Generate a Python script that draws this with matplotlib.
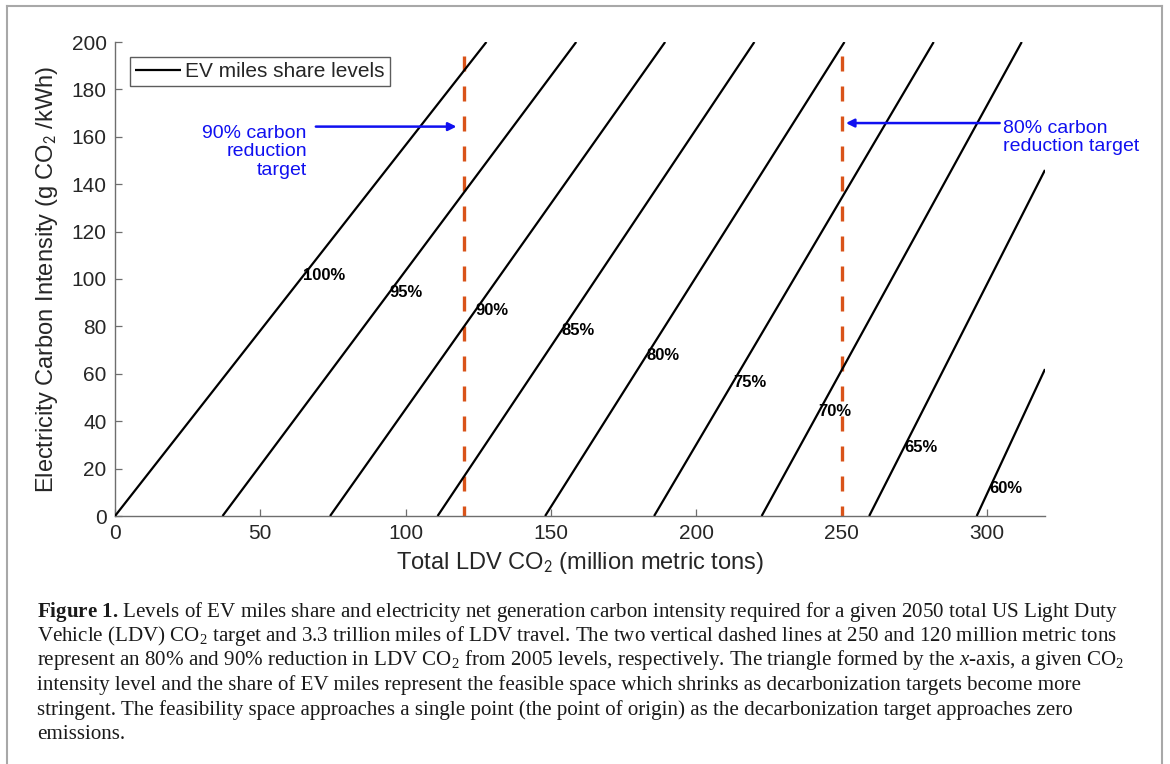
import numpy as np
import matplotlib
matplotlib.use("Agg")
import matplotlib.pyplot as plt
from matplotlib.lines import Line2D

# ---------------- data ----------------
ev_share_labels = ["100%", "95%", "90%", "85%", "80%", "75%", "70%", "65%", "60%"]
x_at_zero = [0, 37, 74, 111, 148, 185.5, 222.5, 259.5, 296.5]      # CO2 at 0 g/kWh
x_at_end = [127.8, 158.7, 189.3, 220, 251, 281.7, 312, 320, 320]   # end point x
y_at_end = [200, 200, 200, 200, 200, 200, 200, 146, 62]            # end point y
label_y = [101.3, 94.1, 86.5, 78.1, 67.9, 56.5, 43.9, 29.1, 11.4]  # label heights

target_x = [120, 250]
target_top = [194, 194]

x_ticks = [0, 50, 100, 150, 200, 250, 300]
y_ticks = [0, 20, 40, 60, 80, 100, 120, 140, 160, 180, 200]

caption_lines = [
    r"$\mathbf{Figure\ 1.}\,$Levels of EV miles share and electricity net generation carbon intensity required for a given 2050 total US Light Duty",
    r"Vehicle (LDV) CO$_2$ target and 3.3 trillion miles of LDV travel. The two vertical dashed lines at 250 and 120 million metric tons",
    r"represent an 80% and 90% reduction in LDV CO$_2$ from 2005 levels, respectively. The triangle formed by the $\mathit{x}$-axis, a given CO$_2$",
    r"intensity level and the share of EV miles represent the feasible space which shrinks as decarbonization targets become more",
    r"stringent. The feasibility space approaches a single point (the point of origin) as the decarbonization target approaches zero",
    r"emissions.",
]

# ---------------- styling ----------------
plt.rcParams['font.family'] = ['Liberation Sans', 'DejaVu Sans']
plt.rcParams['mathtext.fontset'] = 'custom'
plt.rcParams['mathtext.rm'] = 'Liberation Serif'
plt.rcParams['mathtext.it'] = 'Liberation Serif:italic'
plt.rcParams['mathtext.bf'] = 'Liberation Serif:bold'

W, H = 1170, 764
fig = plt.figure(figsize=(W / 100, H / 100), dpi=100)
fig.patch.set_facecolor('white')

# outer frame (left, top, right)
frame_c = '#a8a8a8'
fx0, fx1, fy1 = 7 / W, 1162 / W, 1 - 6 / H
for xs, ys in [([fx0, fx0], [0, fy1]), ([fx0, fx1], [fy1, fy1]), ([fx1, fx1], [fy1, 0])]:
    fig.add_artist(Line2D(xs, ys, transform=fig.transFigure, color=frame_c, lw=1.5))

ax_left, ax_right, ax_bottom, ax_top = 115, 1045, 516, 42
ax = fig.add_axes([ax_left / W, 1 - ax_bottom / H, (ax_right - ax_left) / W, (ax_bottom - ax_top) / H])
ax.set_xlim(0, 320)
ax.set_ylim(0, 200)

axis_c = '#6e6e6e'
text_c = '#262626'
for s in ['top', 'right']:
    ax.spines[s].set_visible(False)
for s in ['left', 'bottom']:
    ax.spines[s].set_color(axis_c)
    ax.spines[s].set_linewidth(1.0)
ax.tick_params(direction='in', length=5, width=0.9, color=axis_c, labelcolor=text_c,
               labelsize=15, pad=6)
ax.set_xticks(x_ticks)
ax.set_yticks(y_ticks)

# EV share lines
for i, lab in enumerate(ev_share_labels):
    xs = [x_at_zero[i], x_at_end[i]]
    ys = [0, y_at_end[i]]
    ax.plot(xs, ys, color='black', lw=1.6, solid_capstyle='butt', zorder=3,
            label='EV miles share levels' if i == 0 else None)
    lx = np.interp(label_y[i], ys, xs)
    ax.text(lx, label_y[i], lab, fontsize=12, fontweight='bold', color='black',
            ha='left', va='center', zorder=4)

# target dashed lines (drawn top-down so the dash pattern starts at the top)
for tx, tt in zip(target_x, target_top):
    ax.plot([tx, tx], [tt, 0], color='#d95319', lw=2.4, dashes=[4.5, 4.5], zorder=2)

blue = '#1010f0'
ax.annotate('', xy=(117.5, 164.3), xytext=(69.1, 164.3),
            arrowprops=dict(arrowstyle='-|>', color=blue, lw=1.8,
                            mutation_scale=12, shrinkA=0, shrinkB=0))
ax.text(66, 153.6, '90% carbon\nreduction\ntarget', color=blue, fontsize=14,
        ha='right', va='center', multialignment='right', linespacing=1.15)
ax.annotate('', xy=(251.5, 165.8), xytext=(304.4, 165.8),
            arrowprops=dict(arrowstyle='-|>', color=blue, lw=1.8,
                            mutation_scale=12, shrinkA=0, shrinkB=0))
ax.text(305.5, 159.7, '80% carbon\nreduction target', color=blue, fontsize=14,
        ha='left', va='center', multialignment='left', linespacing=1.15, clip_on=False)

ax.set_xlabel('Total LDV CO$_2$ (million metric tons)', fontsize=17, color=text_c,
              labelpad=5, math_fontfamily='stixsans')
ax.set_ylabel('Electricity Carbon Intensity (g CO$_2$ /kWh)', fontsize=17, color=text_c,
              labelpad=8, math_fontfamily='stixsans')

leg = ax.legend(loc='upper left', bbox_to_anchor=((130 - ax_left) / (ax_right - ax_left),
                                                   (ax_bottom - 57) / (ax_bottom - ax_top)),
                fontsize=15, frameon=True, fancybox=False, handlelength=2.2,
                handletextpad=0.2, borderpad=0.25, borderaxespad=0)
leg.get_frame().set_edgecolor('#333333')
leg.get_frame().set_linewidth(1.0)
for t in leg.get_texts():
    t.set_color(text_c)

# caption
baselines = [616.5, 641, 665.5, 690, 714.5, 739]
for line, b in zip(caption_lines, baselines):
    fig.text(37 / W, 1 - b / H, line, fontsize=15.1, family='Liberation Serif',
             color='#1a1a1a', ha='left', va='baseline', math_fontfamily='custom')

fig.savefig('out.png', dpi=100, facecolor='white')
